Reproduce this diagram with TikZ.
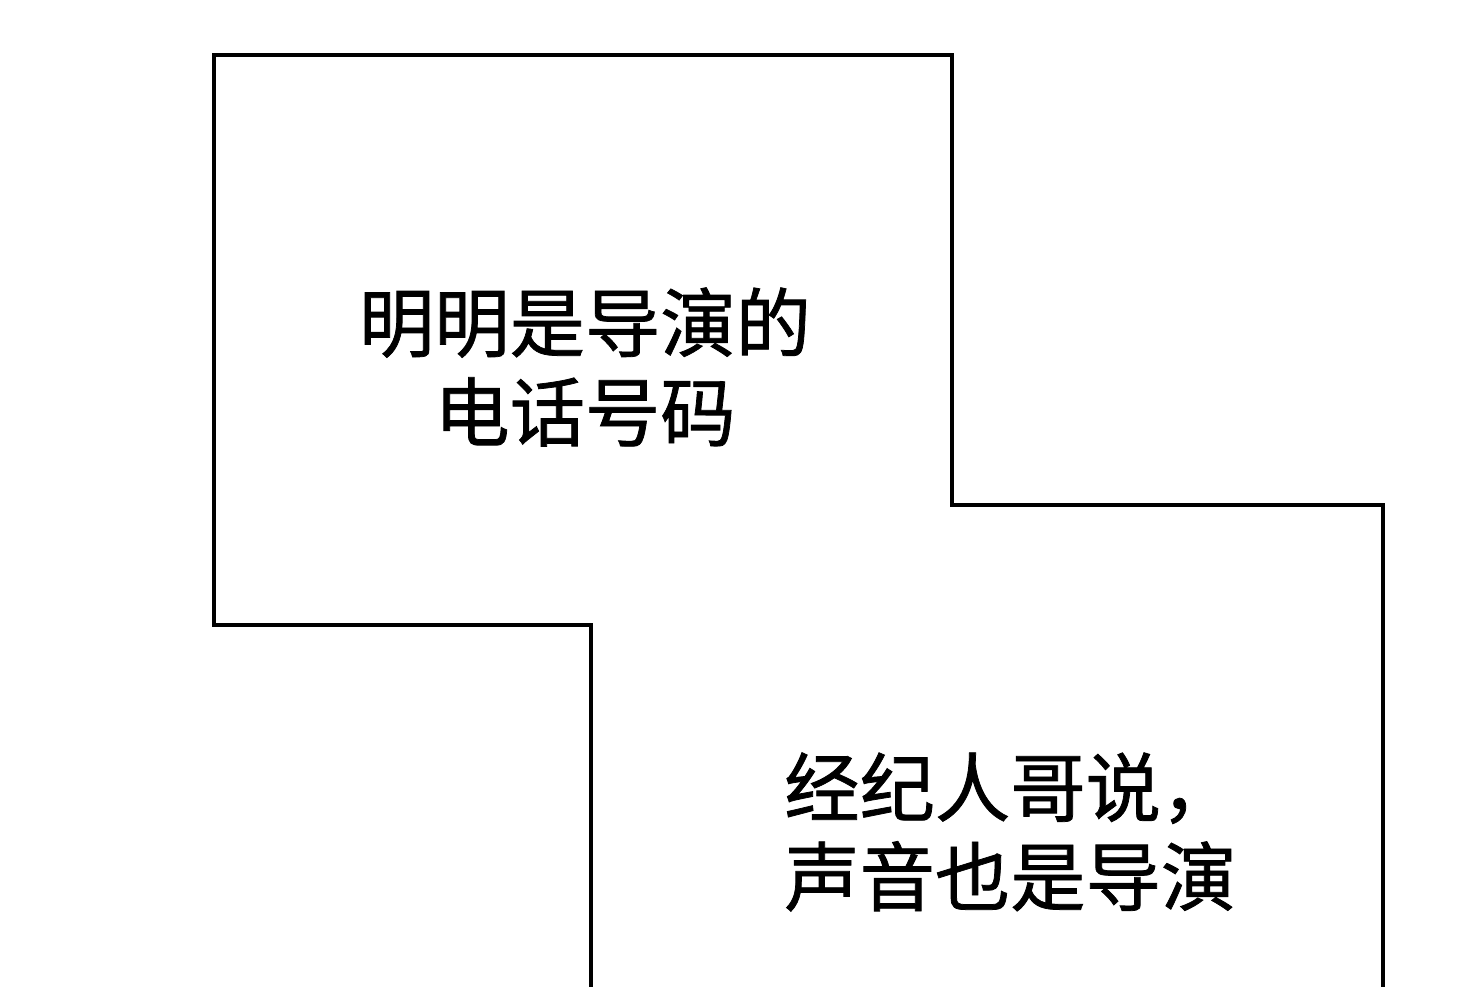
\documentclass[tikz,border=0pt]{standalone}
\usepackage{fontspec}
\newfontfamily\cjk[FakeBold=1]{Noto Sans CJK SC}

\begin{document}
\begin{tikzpicture}[x=0.75pt,y=-0.75pt]

                \useasboundingbox (0,0) rectangle (1460,986);
                \begin{scope}
                    \clip (0,0) rectangle (1460,986);
                    \draw[line width=3.2pt, line join=miter]
                        (591,1000) -- (591,625) -- (214,625) -- (214,55)
                        -- (952,55) -- (952,505) -- (1383,505) -- (1383,1000);
                \end{scope}
                \node (upper) at (585,367) [font=\cjk\fontsize{56.5pt}{67pt}\selectfont, align=center, inner sep=0pt] {明明是导演的\\电话号码};
                \node (lower) at (784,832) [anchor=west, font=\cjk\fontsize{56.5pt}{67pt}\selectfont, align=left, inner sep=0pt] {经纪人哥说，\\声音也是导演};
            \end{tikzpicture}
\end{document}
